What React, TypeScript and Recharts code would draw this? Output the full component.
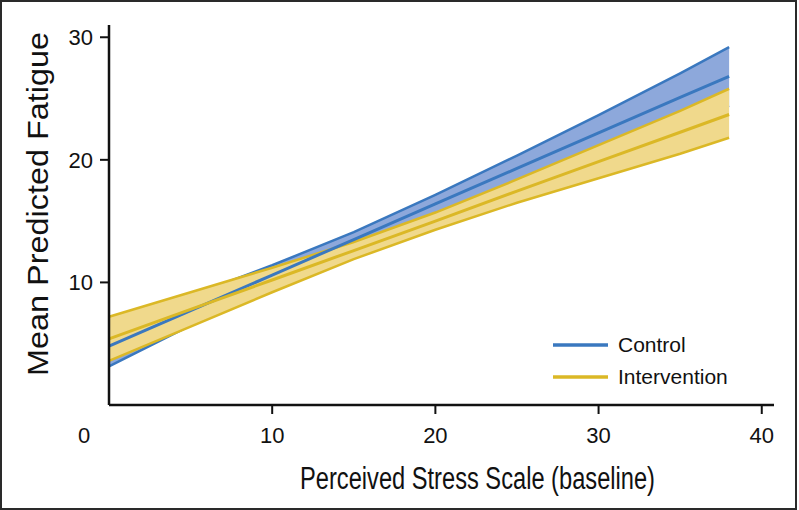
import {
  ComposedChart,
  Area,
  Line,
  XAxis,
  YAxis,
  Legend,
  Label,
} from 'recharts';

// Perceived stress score (baseline)
const stressScores = [0, 5, 10, 15, 20, 25, 30, 35, 38];

// Control group: predicted fatigue and 95% band
const controlMean = [4.8, 7.7, 10.6, 13.5, 16.4, 19.3, 22.2, 25.1, 26.8];
const controlLower = [3.15, 6.5, 9.8, 12.9, 15.65, 18.25, 20.75, 23.15, 24.4];
const controlUpper = [6.45, 8.9, 11.4, 14.1, 17.15, 20.35, 23.65, 27.05, 29.2];

// Intervention group
const interventionMean = [5.4, 7.8, 10.2, 12.6, 15.0, 17.45, 19.85, 22.25, 23.7];
const interventionLower = [3.6, 6.4, 9.2, 11.9, 14.3, 16.5, 18.5, 20.5, 21.8];
const interventionUpper = [7.2, 9.2, 11.2, 13.3, 15.7, 18.4, 21.2, 24.0, 25.8];

const xTicks = [0, 10, 20, 30, 40];
const yTicks = [10, 20, 30];

const BLUE = '#3A78BF';
const BLUE_FILL = '#8DA8DB';
const GOLD = '#DBB826';
const GOLD_FILL = '#F0D98C';
const FONT = '"Liberation Sans", Arial, Helvetica, sans-serif';

const data = stressScores.map((x, i) => ({
  x,
  control: controlMean[i],
  controlBand: [controlLower[i], controlUpper[i]],
  intervention: interventionMean[i],
  interventionBand: [interventionLower[i], interventionUpper[i]],
}));

const XTick = (props: any) => {
  const { x, y, payload } = props;
  if (payload.value === 0) {
    return (
      <text x={x - 25} y={y + 38} textAnchor="middle" fontSize={22} fontFamily={FONT} fill="#111">
        0
      </text>
    );
  }
  return (
    <g>
      <line x1={x} x2={x} y1={y} y2={y + 9} stroke="#111" strokeWidth={2} />
      <text x={x} y={y + 38} textAnchor="middle" fontSize={22} fontFamily={FONT} fill="#111">
        {payload.value}
      </text>
    </g>
  );
};

const YTick = (props: any) => {
  const { x, y, payload } = props;
  return (
    <g>
      <line x1={x - 9} x2={x} y1={y} y2={y} stroke="#111" strokeWidth={2} />
      <text x={x - 16} y={y + 8} textAnchor="end" fontSize={22} fontFamily={FONT} fill="#111">
        {payload.value}
      </text>
    </g>
  );
};

const LegendBox = (props: any) => {
  const items = (props.payload || []).filter((p: any) => p.type !== 'none');
  return (
    <div style={{ fontFamily: FONT, fontSize: 21, color: '#111' }}>
      {items.map((item: any) => (
        <div key={item.value} style={{ display: 'flex', alignItems: 'center', height: 32 }}>
          <svg width={55} height={4} style={{ marginRight: 10 }}>
            <line x1={0} x2={55} y1={2} y2={2} stroke={item.color} strokeWidth={3.5} />
          </svg>
          <span>{item.value}</span>
        </div>
      ))}
    </div>
  );
};

export default function App() {
  return (
    <div style={{ position: 'absolute', left: 0, top: 0, width: 799, height: 510, background: '#fff' }}>
      <style>{`body{margin:0}`}</style>
      <div
        style={{
          position: 'absolute',
          left: 0,
          top: 0,
          width: 797,
          height: 510,
          boxSizing: 'border-box',
          border: '2px solid #2a2a2a',
        }}
      />
      <ComposedChart
        width={799}
        height={510}
        data={data}
        margin={{ top: 25, right: 25, bottom: 65, left: 49 }}
      >
        <XAxis
          dataKey="x"
          type="number"
          domain={[0, 40.75]}
          ticks={xTicks}
          tick={<XTick />}
          tickSize={0}
          tickMargin={0}
          tickLine={false}
          height={40}
          axisLine={{ stroke: '#111', strokeWidth: 2.5 }}
        >
          <Label
            content={(p: any) => {
              const vb = p.viewBox;
              return (
                <text
                  x={vb.x + vb.width / 2 + 36}
                  y={489}
                  textAnchor="middle"
                  fontSize={31}
                  fontFamily={FONT}
                  fill="#111"
                  textLength={355}
                  lengthAdjust="spacingAndGlyphs"
                >
                  Perceived Stress Scale (baseline)
                </text>
              );
            }}
          />
        </XAxis>
        <YAxis
          type="number"
          domain={[0, 31]}
          ticks={yTicks}
          tick={<YTick />}
          tickSize={0}
          tickMargin={0}
          tickLine={false}
          width={60}
          axisLine={{ stroke: '#111', strokeWidth: 2.5 }}
        >
          <Label
            content={() => (
              <text
                x={0}
                y={0}
                transform="translate(48 204) rotate(-90)"
                textAnchor="middle"
                fontSize={30}
                fontFamily={FONT}
                fill="#111"
                textLength={344}
                lengthAdjust="spacingAndGlyphs"
              >
                Mean Predicted Fatigue
              </text>
            )}
          />
        </YAxis>
        <Legend
          layout="vertical"
          align="center"
          verticalAlign="middle"
          content={<LegendBox />}
          wrapperStyle={{ left: 553, top: 329, width: 220, height: 64 }}
        />
        <Area
          dataKey="controlBand"
          type="linear"
          stroke={BLUE}
          strokeWidth={2.5}
          fill={BLUE_FILL}
          fillOpacity={1}
          legendType="none"
          isAnimationActive={false}
          dot={false}
          activeDot={false}
        />
        <Area
          dataKey="interventionBand"
          type="linear"
          stroke={GOLD}
          strokeWidth={2.5}
          fill={GOLD_FILL}
          fillOpacity={1}
          legendType="none"
          isAnimationActive={false}
          dot={false}
          activeDot={false}
        />
        <Line
          dataKey="control"
          name="Control"
          type="linear"
          stroke={BLUE}
          strokeWidth={3}
          dot={false}
          activeDot={false}
          isAnimationActive={false}
        />
        <Line
          dataKey="intervention"
          name="Intervention"
          type="linear"
          stroke={GOLD}
          strokeWidth={3}
          dot={false}
          activeDot={false}
          isAnimationActive={false}
        />
      </ComposedChart>
    </div>
  );
}
